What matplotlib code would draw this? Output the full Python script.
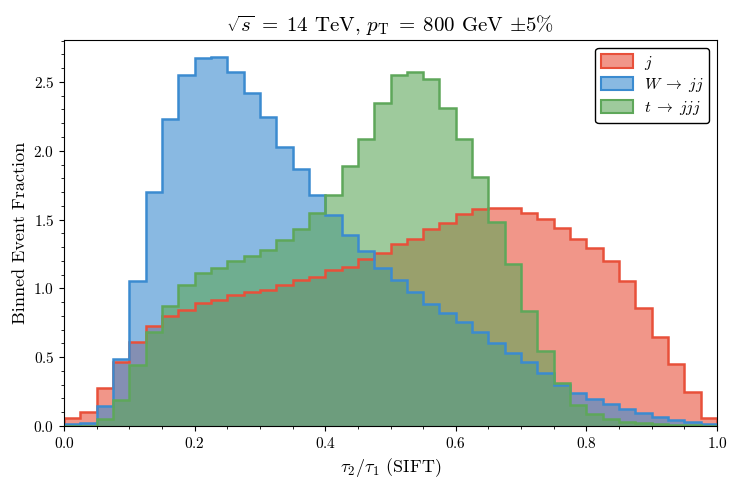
import numpy as np
import matplotlib
matplotlib.use("Agg")
import matplotlib.pyplot as plt
from matplotlib.patches import Patch
from matplotlib.ticker import MultipleLocator

plt.rcParams['font.family'] = 'serif'
plt.rcParams['font.serif'] = ['cmr10', 'DejaVu Serif']
plt.rcParams['mathtext.fontset'] = 'cm'
plt.rcParams['axes.formatter.use_mathtext'] = True
plt.rcParams['axes.unicode_minus'] = False

bin_edges = np.linspace(0.0, 1.0, 41)

labels = [r'$j$', r'$W \;\rightarrow\; jj$', r'$t \;\rightarrow\; jjj$']

qcd_j = [0.061, 0.104, 0.279, 0.468, 0.610, 0.724, 0.799, 0.843, 0.891, 0.916,
         0.952, 0.971, 0.991, 1.027, 1.061, 1.085, 1.134, 1.158, 1.216, 1.255,
         1.323, 1.361, 1.429, 1.478, 1.538, 1.577, 1.587, 1.583, 1.550, 1.502,
         1.441, 1.357, 1.291, 1.199, 1.056, 0.860, 0.649, 0.448, 0.249, 0.061]

w_jj = [0.012, 0.024, 0.145, 0.485, 1.056, 1.703, 2.229, 2.553, 2.672, 2.684,
        2.570, 2.422, 2.243, 2.030, 1.868, 1.677, 1.533, 1.388, 1.272, 1.151,
        1.061, 0.971, 0.887, 0.819, 0.758, 0.683, 0.606, 0.533, 0.465, 0.383,
        0.298, 0.242, 0.194, 0.157, 0.121, 0.092, 0.065, 0.044, 0.027, 0.015]

t_jjj = [0.002, 0.003, 0.048, 0.189, 0.443, 0.686, 0.875, 1.025, 1.110, 1.148,
         1.197, 1.233, 1.279, 1.352, 1.434, 1.546, 1.677, 1.887, 2.088, 2.350,
         2.549, 2.570, 2.522, 2.313, 2.086, 1.807, 1.483, 1.175, 0.838, 0.543,
         0.310, 0.153, 0.085, 0.048, 0.031, 0.019, 0.012, 0.007, 0.004, 0.002]

series = [qcd_j, w_jj, t_jjj]
edge_colors = ['#E8503A', '#3B8BD0', '#5EA75A']
alpha = 0.6

fig = plt.figure(figsize=(7.3, 4.79), dpi=100)
ax = fig.add_axes([0.0877, 0.1106, 0.8945, 0.8059])

for vals, c in zip(series, edge_colors):
    ax.stairs(vals, bin_edges, fill=True, facecolor=c, alpha=alpha, edgecolor='none')
for vals, c in zip(series, edge_colors):
    ax.stairs(vals, bin_edges, fill=False, color=c, linewidth=1.8)

ax.set_xlim(0, 1)
ax.set_ylim(0, 2.805)
ax.xaxis.set_major_locator(MultipleLocator(0.2))
ax.xaxis.set_minor_locator(MultipleLocator(0.05))
ax.yaxis.set_major_locator(MultipleLocator(0.5))
ax.yaxis.set_minor_locator(MultipleLocator(0.1))
ax.tick_params(labelsize=11)

ax.set_xlabel(r'$\tau_2/\tau_1$ (SIFT)', fontsize=13)
ax.set_ylabel('Binned Event Fraction', fontsize=13)
ax.set_title(r'$\sqrt{s}\;=\;14$ TeV, $p_{\mathrm{T}}\;=\;800$ GeV $\pm 5\%$', fontsize=15)

handles = [Patch(facecolor=matplotlib.colors.to_rgba(c, alpha), edgecolor=c, linewidth=1.5)
           for c in edge_colors]
leg = ax.legend(handles, labels, loc='upper right', fontsize=11.5, frameon=True,
                fancybox=True, framealpha=1.0, edgecolor='black',
                labelspacing=0.3, borderpad=0.35, handlelength=2.0, handleheight=0.9,
                handletextpad=0.7)
leg.get_frame().set_linewidth(1.0)

fig.savefig('out.png', dpi=100)
